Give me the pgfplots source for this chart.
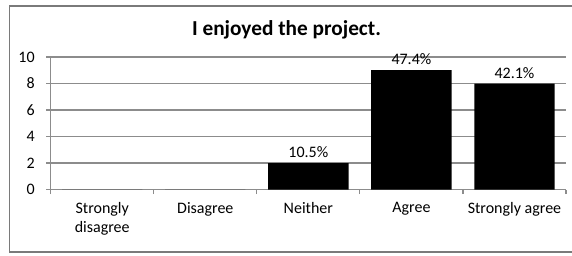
\documentclass[border=0pt]{standalone}
\usepackage{pgfplots}
\pgfplotsset{compat=1.18}
\usepackage{fontspec}
\setmainfont{Carlito}
\definecolor{framegray}{HTML}{7A7A7A}
\definecolor{gridgray}{HTML}{8C8C8C}
\begin{document}
\begin{tikzpicture}[x=1bp,y=1bp]
\path[use as bounding box] (0,0) rectangle (572,255);
\clip (0,0) rectangle (572,255);
\draw[framegray, line width=1.8bp] (9.5,3) rectangle (590,249);
\node[anchor=base, font=\fontsize{21.3bp}{25bp}\selectfont\bfseries] at (286.5,219.5) {I enjoyed the project.};
\begin{axis}[
  at={(50.7bp,65.5bp)}, anchor=south west,
  scale only axis, width=515.3bp, height=132.5bp,
  xmin=-0.5, xmax=4.5, ymin=0, ymax=10,
  axis x line*=bottom, axis y line*=left,
  axis line style={gridgray, line width=1.1bp},
  ytick={0,2,...,10},
  ymajorgrids,
  grid style={gridgray, line width=1.1bp},
  tick align=outside,
  major tick length=4.5bp,
  tick style={gridgray, line width=1.1bp},
  xtick={-0.5,0.5,...,4.5},
  xticklabels={},
  extra x ticks={0,1,2,3,4},
  extra x tick labels={Strongly\\disagree, Disagree, Neither, Agree, Strongly agree},
  extra x tick style={major tick length=0pt, grid=none,
     tick label style={yshift=-9bp}},
  xticklabel style={align=center, font=\fontsize{16bp}{19.5bp}\selectfont, text depth=0pt},
  yticklabel style={font=\fontsize{16bp}{19.5bp}\selectfont, xshift=-8bp},
  /pgf/number format/assume math mode=true,
  bar width=0.78,
  nodes near coords,
  point meta=explicit symbolic,
  nodes near coords style={anchor=south, inner sep=0pt, yshift=5bp, font=\fontsize{16bp}{19.5bp}\selectfont},
]
\addplot[ybar, fill=black, draw=none] coordinates {
  (0,0) [{}]
  (1,0) [{}]
  (2,2) [10.5\%]
  (3,9) [47.4\%]
  (4,8) [42.1\%]
};
\end{axis}
\end{tikzpicture}
\end{document}
